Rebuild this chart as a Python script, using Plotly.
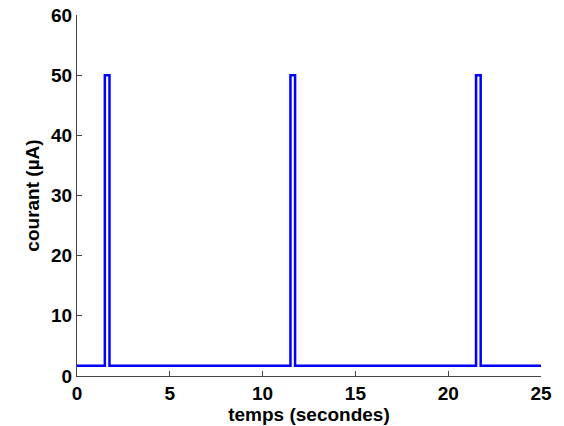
import plotly.graph_objects as go

# Data: step-shaped current pulses
temps = [0, 1.5, 1.75, 11.5, 11.75, 21.5, 21.75, 25]
courant = [1.7, 50, 1.7, 50, 1.7, 50, 1.7, 1.7]

x_ticks = [0, 5, 10, 15, 20, 25]
y_ticks = [0, 10, 20, 30, 40, 50, 60]

fig = go.Figure()
fig.add_trace(go.Scatter(
    x=temps, y=courant, mode="lines", line_shape="hv",
    line=dict(color="#0000ff", width=2.5), showlegend=False,
))

font_family = "Liberation Sans, Arial, sans-serif"
fig.update_layout(
    width=564, height=426,
    margin=dict(l=77, r=23, t=15, b=50),
    paper_bgcolor="white", plot_bgcolor="white",
    font=dict(family=font_family, color="black"),
)
fig.update_xaxes(
    range=[0, 25], tickvals=x_ticks, ticktext=[str(v) for v in x_ticks],
    showgrid=False, zeroline=False, showline=True, linecolor="#444444", linewidth=1,
    ticks="inside", ticklen=5, tickcolor="#444444", automargin=False,
    tickfont=dict(size=19, family=font_family, color="black", weight="bold"),
    title=dict(text="<b>temps (secondes)</b>", font=dict(size=19), standoff=0),
)
fig.update_yaxes(
    range=[0, 60], tickvals=y_ticks, ticktext=[str(v) for v in y_ticks],
    showgrid=False, zeroline=False, showline=True, linecolor="#444444", linewidth=1,
    ticks="inside", ticklen=5, tickcolor="#444444", automargin=False,
    tickfont=dict(size=19, family=font_family, color="black", weight="bold"),
    title=dict(text="<b>courant (µA)</b>", font=dict(size=19), standoff=6),
)
fig.write_html("out.html", config={"displayModeBar": False},
               post_script="document.body.style.margin='0';")
